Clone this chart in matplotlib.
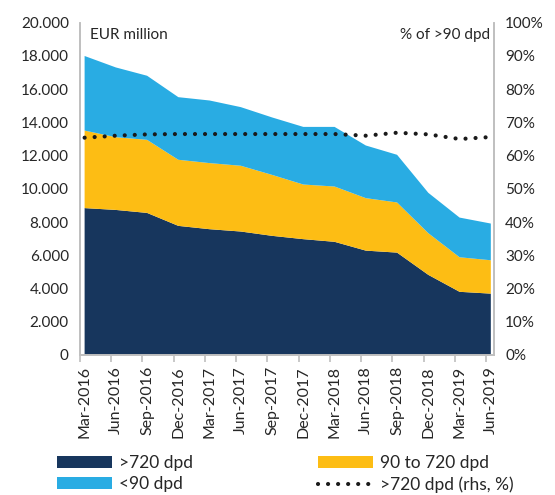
import numpy as np
import matplotlib
matplotlib.use("Agg")
import matplotlib.pyplot as plt
from matplotlib.ticker import FuncFormatter

plt.rcParams['font.family'] = ['Lato', 'DejaVu Sans']

# Quarterly NPL breakdown, EUR million
quarters = ["Mar-2016", "Jun-2016", "Sep-2016", "Dec-2016", "Mar-2017", "Jun-2017",
            "Sep-2017", "Dec-2017", "Mar-2018", "Jun-2018", "Sep-2018", "Dec-2018",
            "Mar-2019", "Jun-2019"]
gt720 = [8840, 8730, 8550, 7770, 7570, 7430, 7170, 6970, 6810, 6280, 6160, 4820, 3800, 3690]
d90_720 = [4670, 4380, 4400, 3980, 3980, 3960, 3670, 3290, 3330, 3160, 3020, 2510, 2080, 2010]
lt90 = [4490, 4200, 3860, 3770, 3770, 3530, 3460, 3470, 3590, 3170, 2870, 2430, 2390, 2210]
# >720 dpd as % of >90 dpd (rhs)
share720 = [65.4, 66.0, 66.4, 66.5, 66.5, 66.5, 66.5, 66.5, 66.5, 66.0, 66.9, 66.4, 65.0, 65.6]

navy = "#17365D"
yellow = "#FDBD14"
cyan = "#29ACE3"
grey = "#BFBFBF"
txt = "#262626"

x = np.arange(len(quarters))

fig = plt.figure(figsize=(5.55, 4.95), dpi=100)
ax = fig.add_axes([0.144, 0.283, 0.746, 0.671])

stack = ax.stackplot(x, gt720, d90_720, lt90, colors=[navy, yellow, cyan], linewidth=0)
ax.set_xlim(-0.15, 13.1)
ax.set_ylim(0, 20000)
ax.set_yticks(np.arange(0, 20001, 2000))
ax.yaxis.set_major_formatter(FuncFormatter(lambda v, p: f"{int(v):,}".replace(",", ".")))
ax.tick_params(axis='y', length=0, labelsize=11, labelcolor=txt, pad=8)

ax.set_xticks(x)
ax.set_xticklabels(quarters, rotation=90, fontsize=11.5, color=txt)
ax.set_xticks(x - 0.15, minor=True)
ax.tick_params(axis='x', which='major', length=0, pad=8)
ax.tick_params(axis='x', which='minor', length=5, color=grey, width=1.2, direction='out')

ax.spines['top'].set_visible(False)
for s in ['left', 'bottom', 'right']:
    ax.spines[s].set_color(grey)
    ax.spines[s].set_linewidth(1.2)

ax2 = ax.twinx()
ln, = ax2.plot(x, share720, color="#1a1a1a", linewidth=3.0,
               linestyle=(0, (0.01, 2.4)), dash_capstyle='round')
ax2.set_ylim(0, 100)
ax2.set_yticks(np.arange(0, 101, 10))
ax2.yaxis.set_major_formatter(FuncFormatter(lambda v, p: f"{int(v)}%"))
ax2.tick_params(axis='y', length=0, labelsize=11, labelcolor=txt, pad=8)
ax2.spines['top'].set_visible(False)
for s in ['left', 'bottom', 'right']:
    ax2.spines[s].set_color(grey)
    ax2.spines[s].set_linewidth(1.2)

ax.text(0.025, 0.985, "EUR million", transform=ax.transAxes, ha='left', va='top',
        fontsize=11, color=txt)
ax.text(0.99, 0.985, "% of >90 dpd", transform=ax.transAxes, ha='right', va='top',
        fontsize=11, color=txt)

handles = [stack[0], stack[2], stack[1], ln]
labels = [">720 dpd", "<90 dpd", "90 to 720 dpd", ">720 dpd (rhs, %)"]
fig.legend(handles, labels, loc='upper left', bbox_to_anchor=(0.075, 0.112),
           bbox_transform=fig.transFigure, ncol=2, frameon=False, fontsize=12.5,
           handlelength=3.15, handleheight=0.7, labelspacing=0.3, columnspacing=7.2,
           handletextpad=0.4, labelcolor=txt)

fig.savefig("out.png", dpi=100)
